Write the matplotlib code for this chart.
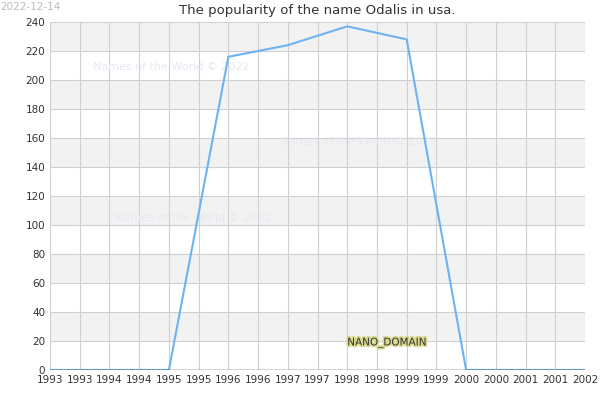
import numpy as np
import matplotlib
matplotlib.use("Agg")
from matplotlib import pyplot as plt
import matplotlib.patheffects as pe
from matplotlib.ticker import MultipleLocator, FuncFormatter

years = [1993, 1994, 1995, 1996, 1997, 1998, 1999, 2000, 2001, 2002]
counts = [0, 0, 0, 216, 224, 237, 228, 0, 0, 0]

fig = plt.figure(figsize=(6, 4), dpi=100)
ax = fig.add_axes([50 / 600, 30 / 400, 535 / 600, 348 / 400])

for lo in range(20, 240, 40):
    ax.axhspan(lo, lo + 20, color="#f2f2f2", zorder=0, lw=0)
ax.plot(years, counts, color="#6db3f2", lw=1.5, zorder=3)

ax.set_xlim(1993, 2002)
ax.set_ylim(0, 240)
ax.xaxis.set_major_locator(MultipleLocator(0.5))
ax.xaxis.set_major_formatter(FuncFormatter(lambda v, p: f"{int(v)}"))
ax.yaxis.set_major_locator(MultipleLocator(20))
ax.grid(True, color="#d0d0d0", lw=0.8, zorder=1)
ax.set_axisbelow(True)
ax.tick_params(labelsize=7.5, length=0, colors="#333333")
for s in ax.spines.values():
    s.set_visible(False)
ax.axhline(0, color="#333333", lw=1, zorder=4)

ax.set_title("The popularity of the name Odalis in usa.", fontsize=9.5, color="#333333", pad=6)
fig.text(0.0, 0.995, "2022-12-14", fontsize=7.5, color="#bbbbbb", va="top")

for x, y in [(1993.72, 207), (1996.87, 155), (1994.1, 103)]:
    ax.text(x, y, "Names of the World © 2022", fontsize=8, color="#e8e8f4", zorder=2)
ax.text(1998, 17, "NANO_DOMAIN", fontsize=7.5, color="#333333", zorder=5,
        path_effects=[pe.withStroke(linewidth=2.5, foreground="#d8d890")])

fig.savefig("out.png", dpi=100)
